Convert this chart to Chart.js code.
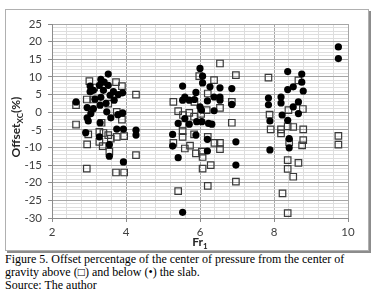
<!DOCTYPE html>
<html>
<head>
<meta charset="utf-8">
<script src="https://cdn.jsdelivr.net/npm/chart.js@4.4.0/dist/chart.umd.min.js"></script>
<style>
    html, body { margin: 0; padding: 0; background: #fff; }
    body { width: 379px; height: 306px; position: relative; overflow: hidden; }
    .chartbox {
        position: absolute; left: 5px; top: 9px; width: 362px; height: 240px;
        border: 1px solid #b0b0b0; box-shadow: 2px 2px 0 #8c8c8c;
    }
    #offsetChart { position: absolute; left: 0; top: 0; }
    .caption {
        position: absolute; left: 5px; top: 253px;
        font-family: "Liberation Serif", "Times New Roman", serif;
        font-size: 12px; line-height: 13px; color: #000;
    }
</style>
</head>
<body>
<div class="chartbox"></div>
<canvas id="offsetChart" width="379" height="250"></canvas>
<div class="caption">
    Figure 5. Offset percentage of the center of pressure from the center of<br>
    gravity above (□) and below (•) the slab.<br>
    Source: The author
</div>
<script>
// above the slab (hollow squares)
const aboveX = [3.01, 3.73, 3.89, 3.14, 4.27, 2.94, 3.12, 2.65, 3.52, 3.75, 3.89, 2.65, 3.34, 2.98, 3.28, 3.39,
    3.52, 3.59, 3.75, 3.95, 3.28, 2.95, 3.37, 3.55, 4.27, 2.94, 3.73, 3.95,
    6.54, 6.97, 5.98, 6.38, 6.21, 5.28, 5.85, 6.86, 6.54, 6.18, 5.41, 5.71, 6.03, 5.54, 5.84, 6.86,
    5.53, 5.53, 5.53, 5.84, 5.28, 5.59, 5.73, 6.21, 6.39, 6.54, 6.54, 5.89, 6.05, 6.07, 6.07, 6.29,
    6.21, 6.97, 5.41,
    7.85, 8.66, 8.39, 8.78, 7.88, 7.91, 8.19, 8.19, 8.52, 8.37, 8.79, 8.41, 8.79, 8.76, 9.74, 9.74,
    8.37, 8.66, 8.37, 8.52, 8.23, 8.37];
const aboveY = [8.8, 8.5, 7.4, 7.0, 5.0, 3.6, 3.6, 2.0, 2.4, 0.1, -2.1, -3.5, -3.0, -6.3, -5.6, -5.9,
    -6.5, -7.5, -7.0, -6.8, -8.4, -9.1, -9.6, -11.2, -12.2, -16.0, -17.1, -17.1,
    13.8, 10.5, 10.2, 9.1, 5.3, 2.9, 2.9, 2.9, 1.2, 0.6, 0.3, -0.2, -0.5, -0.8, -1.3, -3.0,
    -3.5, -5.4, -7.0, -6.3, -8.7, -10.3, -9.5, -7.0, -8.7, -8.7, -10.5, -11.7, -11.2, -12.7, -16.0, -15.0,
    -20.9, -19.7, -22.4,
    9.8, 9.0, 0.6, 0.9, -0.7, -4.9, -4.9, -6.0, -4.2, -4.0, -4.9, -8.5, -7.9, -9.4, -6.7, -9.2,
    -13.6, -14.4, -16.1, -18.3, -23.0, -28.6];

// below the slab (filled circles)
const belowX = [3.52, 3.32, 3.41, 3.03, 3.28, 3.52, 3.39, 3.12, 3.03, 3.66, 3.79, 3.91, 3.57, 3.32, 3.16, 3.68,
    2.65, 3.46, 3.30, 2.95, 3.12, 3.48, 3.78, 3.91, 3.05, 2.95, 3.59, 2.98, 3.30, 3.75, 3.93, 4.27,
    4.27, 2.91, 3.28, 3.55, 3.55, 3.93,
    6.00, 6.07, 6.07, 5.53, 6.27, 6.54, 6.86, 5.89, 6.38, 6.54, 5.59, 5.53, 5.71, 5.85, 6.20, 6.54,
    6.86, 6.00, 6.04, 6.38, 5.59, 5.41, 5.71, 5.91, 6.05, 6.23, 6.32, 5.26, 5.26, 5.89, 6.20, 6.97,
    5.41, 6.20, 6.97, 5.53,
    9.74, 9.74, 8.37, 8.75, 8.75, 8.79, 8.52, 8.37, 7.85, 7.85, 8.19, 8.19, 8.66, 8.52, 8.66, 8.22,
    8.37, 7.89, 8.41, 8.41, 7.89];
const belowY = [10.8, 9.3, 8.5, 7.4, 7.6, 7.6, 6.2, 6.2, 5.8, 5.8, 5.0, 5.5, 4.8, 4.2, 3.7, 3.4,
    2.9, 2.5, 2.0, 1.3, 1.0, 0.1, -0.7, -0.2, -0.4, -1.6, -1.6, -2.5, -3.0, -4.8, -4.8, -5.1,
    -6.5, -5.8, -7.0, -9.2, -12.5, -14.1,
    12.4, 10.2, 8.3, 7.4, 7.2, 6.9, 6.7, 5.6, 4.3, 4.3, 4.3, 3.4, 3.4, 3.6, 3.2, 3.4,
    2.2, 1.5, 0.6, 0.4, -1.8, -3.2, -3.4, -2.7, -2.7, -3.2, -3.4, -6.3, -9.6, -6.5, -7.7, -8.4,
    -12.9, -11.0, -15.0, -28.4,
    18.5, 15.2, 11.5, 10.8, 8.5, 6.0, 7.2, 6.4, 4.0, 2.1, 4.3, 2.6, 2.9, 1.5, -0.4, -0.8,
    -2.3, -2.5, -7.5, -10.1, -10.7];

const xRange = [2, 10];
const yRange = [-30, 25];
const xMajorStep = 2, xMinorStep = 0.4;
const yMajorStep = 5, yMinorStep = 1;

const toPoints = (xs, ys) => xs.map((x, i) => ({ x: x, y: ys[i] }));
const isMajor = (v, step) => Math.abs(v / step - Math.round(v / step)) < 1e-6;

const tickFont = { family: 'Lato, "Liberation Sans", sans-serif', size: 11.5 };

// axis titles with subscripts
const axisTitles = {
    id: 'axisTitles',
    afterDraw(chart) {
        const ctx = chart.ctx;
        const area = chart.chartArea;
        const big = 'bold 12px Lato, "Liberation Sans", sans-serif';
        const small = 'bold 8px Lato, "Liberation Sans", sans-serif';
        ctx.save();
        ctx.fillStyle = '#262626';
        ctx.textBaseline = 'alphabetic';

        // x title: Fr1
        ctx.font = big;
        const w1 = ctx.measureText('Fr').width;
        ctx.font = small;
        const w2 = ctx.measureText('1').width;
        let x0 = (area.left + area.right) / 2 - (w1 + w2) / 2;
        ctx.font = big;
        ctx.fillText('Fr', x0, 246);
        ctx.font = small;
        ctx.fillText('1', x0 + w1, 249);

        // y title: Offset XC (%)
        ctx.translate(20, 127);
        ctx.rotate(-Math.PI / 2);
        ctx.font = big;
        const a = ctx.measureText('Offset').width;
        const c = ctx.measureText('(%)').width;
        ctx.font = small;
        const b = ctx.measureText('XC').width;
        let s = -(a + b + c) / 2;
        ctx.font = big;
        ctx.fillText('Offset', s, 0);
        ctx.font = small;
        ctx.fillText('XC', s + a, 3);
        ctx.font = big;
        ctx.fillText('(%)', s + a + b, 0);
        ctx.restore();
    }
};

new Chart(document.getElementById('offsetChart'), {
    type: 'scatter',
    data: {
        datasets: [
            {
                label: 'above',
                data: toPoints(aboveX, aboveY),
                pointStyle: 'rect',
                pointRadius: 4.6,
                pointHoverRadius: 4.6,
                pointBorderWidth: 1.2,
                pointBorderColor: '#3a3a3a',
                pointBackgroundColor: 'rgba(255,255,255,0)',
                order: 2
            },
            {
                label: 'below',
                data: toPoints(belowX, belowY),
                pointStyle: 'circle',
                pointRadius: 3.6,
                pointHoverRadius: 3.6,
                pointBorderWidth: 0,
                pointBackgroundColor: '#000',
                order: 1
            }
        ]
    },
    options: {
        responsive: false,
        animation: false,
        events: [],
        layout: { padding: { top: 24, right: 31, left: 0, bottom: 0 } },
        plugins: {
            legend: { display: false },
            tooltip: { enabled: false }
        },
        scales: {
            x: {
                type: 'linear',
                min: xRange[0],
                max: xRange[1],
                afterFit: (scale) => { scale.height = 32; },
                border: { display: true, color: '#8c8c8c', width: 1 },
                grid: {
                    color: (c) => isMajor(c.tick.value, xMajorStep) ? '#a6a6a6' : '#dedede',
                    tickColor: (c) => isMajor(c.tick.value, xMajorStep) ? '#8c8c8c' : 'rgba(0,0,0,0)',
                    tickLength: 4,
                    lineWidth: 1
                },
                ticks: {
                    stepSize: xMinorStep,
                    autoSkip: false,
                    maxRotation: 0,
                    padding: 3,
                    color: '#404040',
                    font: tickFont,
                    callback: (v) => isMajor(v, xMajorStep) ? String(Math.round(v)) : ''
                }
            },
            y: {
                type: 'linear',
                min: yRange[0],
                max: yRange[1],
                afterFit: (scale) => { scale.width = 52; },
                border: { display: true, color: '#8c8c8c', width: 1 },
                grid: {
                    color: (c) => isMajor(c.tick.value, yMajorStep) ? '#a6a6a6' : '#dedede',
                    tickColor: (c) => isMajor(c.tick.value, yMajorStep) ? '#8c8c8c' : 'rgba(0,0,0,0)',
                    tickLength: 4,
                    lineWidth: 1
                },
                ticks: {
                    stepSize: yMinorStep,
                    autoSkip: false,
                    padding: 6,
                    color: '#404040',
                    font: tickFont,
                    callback: (v) => isMajor(v, yMajorStep) ? String(Math.round(v)) : ''
                }
            }
        }
    },
    plugins: [axisTitles]
});
</script>
</body>
</html>
